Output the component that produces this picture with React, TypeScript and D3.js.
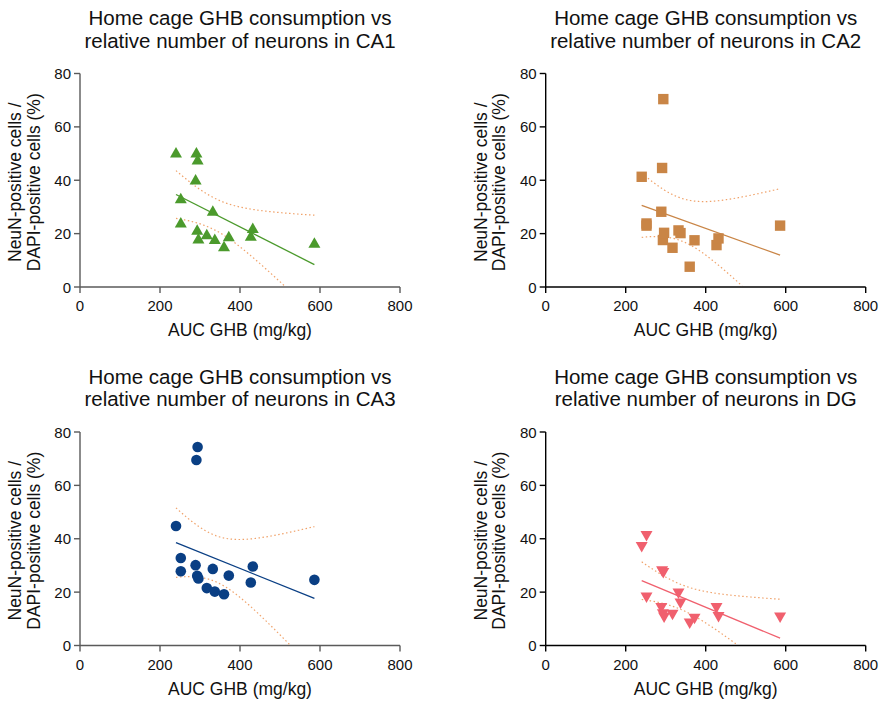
import React from "react";
import * as d3 from "d3";

// AUC GHB (mg/kg), same animals in every panel
const aucGhb = [240, 252, 252, 289, 291, 293, 294, 296, 317, 332, 337, 360, 372, 427, 432, 586];

const ca1 = [50, 32.9, 23.8, 39.9, 50, 21.1, 47.4, 17.8, 19.4, 28.2, 17.6, 14.9, 18.6, 18.8, 21.7, 16.2];
const ca2 = [41.3, 23.8, 23, 28.2, 44.6, 17.6, 70.4, 20.3, 14.7, 21.2, 20.2, 7.6, 17.5, 15.7, 18.2, 23];
const ca3 = [44.8, 32.8, 27.8, 30.1, 69.5, 26.1, 74.4, 25.1, 21.5, 28.7, 20.2, 19.2, 26.2, 23.6, 29.6, 24.6];
const dg = [37.3, 41.4, 18.4, 14.4, 28.2, 12.1, 27.5, 10.9, 11.9, 19.9, 16.1, 8.6, 10.4, 14.4, 11.1, 10.9];

const xTicks = [0, 200, 400, 600, 800];
const yTicks = [0, 20, 40, 60, 80];

const panels = [
  { region: "CA1", values: ca1, color: "#4b9a2c", shape: "up", left: 80, top: 73.5, axis: "#5a5a5a" },
  { region: "CA2", values: ca2, color: "#c98546", shape: "square", left: 545.7, top: 73.5, axis: "#000" },
  { region: "CA3", values: ca3, color: "#0a3f84", shape: "circle", left: 80, top: 432, axis: "#5a5a5a" },
  { region: "DG", values: dg, color: "#f0606e", shape: "down", left: 545.7, top: 432, axis: "#000" },
];

const W = 320;
const H = 213.5;
const FONT = "Liberation Sans, Arial, sans-serif";

function fit(xs: number[], ys: number[]) {
  const n = xs.length;
  const mx = d3.mean(xs)!;
  const my = d3.mean(ys)!;
  let sxx = 0, sxy = 0;
  xs.forEach((x, i) => { sxx += (x - mx) ** 2; sxy += (x - mx) * (ys[i] - my); });
  const b = sxy / sxx;
  const a = my - b * mx;
  let sse = 0;
  xs.forEach((x, i) => { sse += (ys[i] - a - b * x) ** 2; });
  const s = Math.sqrt(sse / (n - 2));
  const t = 2.145; // df = 14
  const band = (x: number) => t * s * Math.sqrt(1 / n + (x - mx) ** 2 / sxx);
  return { a, b, band };
}

function Marker({ shape, cx, cy, color }: any) {
  if (shape === "circle") return <circle cx={cx} cy={cy} r={5.3} fill={color} />;
  if (shape === "square") return <rect x={cx - 5.2} y={cy - 5.2} width={10.4} height={10.4} fill={color} />;
  if (shape === "up")
    return <path d={`M${cx},${cy - 6.5}L${cx + 6},${cy + 4}L${cx - 6},${cy + 4}Z`} fill={color} />;
  return <path d={`M${cx},${cy + 6.5}L${cx + 6},${cy - 4}L${cx - 6},${cy - 4}Z`} fill={color} />;
}

function Panel({ p }: any) {
  const x = d3.scaleLinear().domain([0, 800]).range([p.left, p.left + W]);
  const y = d3.scaleLinear().domain([0, 80]).range([p.top + H, p.top]);
  const { a, b, band } = fit(aucGhb, p.values);
  const [x0, x1] = d3.extent(aucGhb) as [number, number];
  const samples = d3.range(0, 81).map((i) => x0 + ((x1 - x0) * i) / 80);
  const upper = d3.line<number>().x((v) => x(v)).y((v) => y(a + b * v + band(v)));
  const lower = d3
    .line<number>()
    .defined((v) => a + b * v - band(v) >= 0)
    .x((v) => x(v))
    .y((v) => y(a + b * v - band(v)));
  const cx = p.left + W / 2;
  const base = p.top + H;
  const midY = p.top + H / 2;
  return (
    <g fontFamily={FONT}>
      <text x={cx} y={p.top - 48.5} textAnchor="middle" fontSize={20.5} fill="#111">
        Home cage GHB consumption vs
      </text>
      <text x={cx} y={p.top - 26} textAnchor="middle" fontSize={20.5} fill="#111">
        relative number of neurons in {p.region}
      </text>
      <g transform={`translate(${p.left - 59},${midY + 2}) rotate(-90)`}>
        <text textAnchor="middle" fontSize={17.5} fill="#111" y={0}>NeuN-positive cells /</text>
        <text textAnchor="middle" fontSize={17.5} fill="#111" y={18.5}>DAPI-positive cells (%)</text>
      </g>
      <line x1={p.left} x2={p.left} y1={p.top} y2={base} stroke={p.axis} strokeWidth={1.4} />
      <line x1={p.left} x2={p.left + W} y1={base} y2={base} stroke={p.axis} strokeWidth={1.4} />
      {yTicks.map((t) => (
        <g key={t}>
          <line x1={p.left - 6} x2={p.left} y1={y(t)} y2={y(t)} stroke={p.axis} strokeWidth={1.4} />
          <text x={p.left - 9} y={y(t) + 5.5} textAnchor="end" fontSize={15} fill="#111">{t}</text>
        </g>
      ))}
      {xTicks.map((t) => (
        <g key={t}>
          <line x1={x(t)} x2={x(t)} y1={base} y2={base + 6} stroke={p.axis} strokeWidth={1.4} />
          <text x={x(t)} y={base + 24} textAnchor="middle" fontSize={15} fill="#111">{t}</text>
        </g>
      ))}
      <text x={cx} y={base + 49} textAnchor="middle" fontSize={17.5} fill="#111">AUC GHB (mg/kg)</text>
      <path d={upper(samples)!} fill="none" stroke="#f0a26a" strokeWidth={1.2} strokeDasharray="1.5 2.5" />
      <path d={lower(samples)!} fill="none" stroke="#f0a26a" strokeWidth={1.2} strokeDasharray="1.5 2.5" />
      <line x1={x(x0)} x2={x(x1)} y1={y(a + b * x0)} y2={y(a + b * x1)} stroke={p.color} strokeWidth={1.3} />
      {aucGhb.map((v, i) => (
        <Marker key={i} shape={p.shape} cx={x(v)} cy={y(p.values[i])} color={p.color} />
      ))}
    </g>
  );
}

export default function App() {
  return (
    <svg
      width={880}
      height={703}
      style={{ position: "absolute", left: 0, top: 0, display: "block" }}
    >
      <rect width={880} height={703} fill="#fff" />
      {panels.map((p) => (
        <Panel key={p.region} p={p} />
      ))}
    </svg>
  );
}
